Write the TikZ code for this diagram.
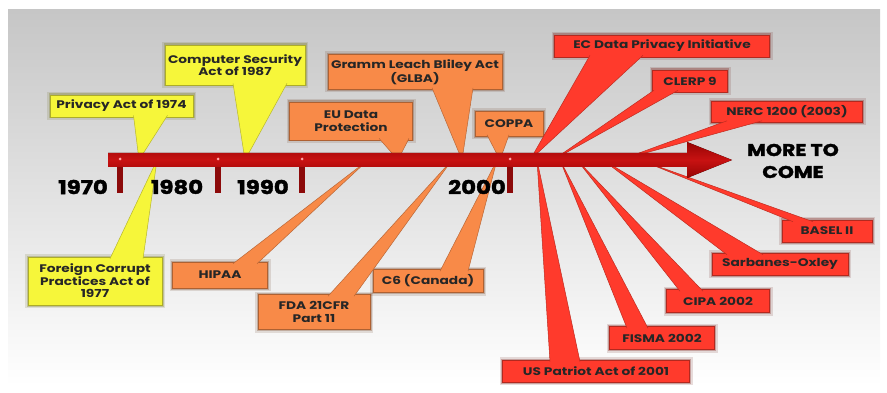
\documentclass[tikz,border=0pt]{standalone}
\usepackage{fontspec}
\setmainfont{Poppins}
\newfontfamily\lawfont[FakeStretch=1.25]{Poppins}
\newfontfamily\yearfont[FakeBold=2,FakeStretch=1.2]{Poppins}
\usetikzlibrary{calc}
\definecolor{bgtop}{RGB}{198,198,198}
\definecolor{lawyel}{RGB}{246,246,58}
\definecolor{laworg}{RGB}{248,138,72}
\definecolor{lawred}{RGB}{255,58,44}
\definecolor{bardark}{RGB}{150,4,4}
\definecolor{barmid}{RGB}{200,18,18}
\definecolor{tickred}{RGB}{140,10,10}
\tikzset{
	law/.style={fill=#1, draw=#1!70!black, line width=.6pt,
		preaction={draw=#1!40!black, line width=6pt, opacity=.15},
		preaction={draw=#1!50!black, line width=3pt, opacity=.3},
		align=center, inner sep=2pt, text=black!85,
		font=\lawfont\bfseries\fontsize{11}{12.5}\selectfont},
	yelbox/.style={law=lawyel},
	orgbox/.style={law=laworg},
	redbox/.style={law=lawred},
	ptr/.style={fill=#1, draw=#1!75!black, line width=.5pt},
	year/.style={font=\yearfont\bfseries\fontsize{19}{20}\selectfont, text=black},
}
\begin{document}
\begin{tikzpicture}[x=1pt,y=-1pt]
\useasboundingbox (0,0) rectangle (887,393);
\fill[top color=bgtop, bottom color=white] (8,10) rectangle (880,386);

% points on the time line
\coordinate (t1974) at (139,160);
\coordinate (t1977) at (157,160);
\coordinate (t1987) at (245,160);
\coordinate (thipaa) at (368,160);
\coordinate (teu) at (398,160);
\coordinate (tfda) at (452,160);
\coordinate (tglba) at (462,160);
\coordinate (tc6) at (497,160);
\coordinate (tcoppa) at (500,160);
\coordinate (tec) at (530,160);
\coordinate (tpatriot) at (537,160);
\coordinate (tclerp) at (553,160);
\coordinate (tfisma) at (560,160);
\coordinate (tcipa) at (577,160);
\coordinate (tsox) at (603,160);
\coordinate (tnerc) at (620,160);
\coordinate (tbasel) at (640,160);

% yellow
\node[yelbox, minimum width=143, minimum height=22] (priv) at (121.5,106) {Privacy Act of 1974};
\node[yelbox, minimum width=140, minimum height=40] (csa) at (235,65) {Computer Security\\Act of 1987};
\node[yelbox, minimum width=134, minimum height=48] (fcpa) at (95,281) {Foreign Corrupt\\Practices Act of\\1977};

% orange
\node[orgbox, minimum width=123, minimum height=38] (eu) at (351,121) {EU Data\\Protection};
\node[orgbox, minimum width=174, minimum height=35] (glba) at (415,72) {Gramm Leach Bliley Act\\(GLBA)};
\node[orgbox, minimum width=68, minimum height=25] (coppa) at (509,124) {COPPA};
\node[orgbox, minimum width=95, minimum height=26] (hipaa) at (220,275) {HIPAA};
\node[orgbox, minimum width=112, minimum height=35] (fda) at (314,312) {FDA 21CFR\\Part 11};
\node[orgbox, minimum width=110, minimum height=23] (c6) at (428,281) {C6 (Canada)};

% red
\node[redbox, minimum width=215, minimum height=22] (ec) at (662,46) {EC Data Privacy Initiative};
\node[redbox, minimum width=75, minimum height=22] (clerp) at (690,81) {CLERP 9};
\node[redbox, minimum width=151, minimum height=21] (nerc) at (787,112) {NERC 1200 (2003)};
\node[redbox, minimum width=90, minimum height=22] (basel) at (827,231) {BASEL II};
\node[redbox, minimum width=136, minimum height=22] (sox) at (780,264) {Sarbanes-Oxley};
\node[redbox, minimum width=103, minimum height=23] (cipa) at (718,301) {CIPA 2002};
\node[redbox, minimum width=105, minimum height=23] (fisma) at (662,338) {FISMA 2002};
\node[redbox, minimum width=187, minimum height=22] (patriot) at (596,371) {US Patriot Act of 2001};

% pointers
\draw[ptr=lawyel] ($(priv.south)+(12,-2)$) -- (t1974) -- ($(priv.south)+(46,-2)$);
\draw[ptr=lawyel] ($(csa.south)+(-2,-2)$) -- (t1987) -- ($(csa.south)+(52,-2)$);
\draw[ptr=lawyel] ($(fcpa.north)+(15,2)$) -- (t1977) -- ($(fcpa.north)+(48,2)$);
\draw[ptr=laworg] ($(eu.south)+(28,-2)$) -- (teu) -- ($(eu.south)+(58,-2)$);
\draw[ptr=laworg] ($(glba.south)+(17,-2)$) -- (tglba) -- ($(glba.south)+(58,-2)$);
\draw[ptr=laworg] ($(coppa.south)+(-22,-2)$) -- (tcoppa) -- ($(coppa.south)+(0,-2)$);
\draw[ptr=laworg] ($(hipaa.north)+(13,2)$) -- (thipaa) -- ($(hipaa.north)+(37,2)$);
\draw[ptr=laworg] ($(fda.north)+(14,2)$) -- (tfda) -- ($(fda.north)+(40,2)$);
\draw[ptr=laworg] ($(c6.north)+(12,2)$) -- (tc6) -- ($(c6.north)+(40,2)$);
\draw[ptr=lawred] ($(ec.south)+(-72,-2)$) -- (tec) -- ($(ec.south)+(-19,-2)$);
\draw[ptr=lawred] ($(clerp.south)+(-36,-2)$) -- (tclerp) -- ($(clerp.south)+(-12,-2)$);
\draw[ptr=lawred] ($(nerc.south)+(-60,-2)$) -- (tnerc) -- ($(nerc.south)+(-25,-2)$);
\draw[ptr=lawred] ($(basel.north)+(-34,2)$) -- (tbasel) -- ($(basel.north)+(-14,2)$);
\draw[ptr=lawred] ($(sox.north)+(-53,2)$) -- (tsox) -- ($(sox.north)+(-17,2)$);
\draw[ptr=lawred] ($(cipa.north)+(-38,2)$) -- (tcipa) -- ($(cipa.north)+(-15,2)$);
\draw[ptr=lawred] ($(fisma.north)+(-35,2)$) -- (tfisma) -- ($(fisma.north)+(-14,2)$);
\draw[ptr=lawred] ($(patriot.north)+(-46,2)$) -- (tpatriot) -- ($(patriot.north)+(-16,2)$);

% time line
\fill[tickred] (117,166) rectangle (123,193);
\fill[tickred] (215,166) rectangle (221,193);
\fill[tickred] (299,166) rectangle (305,193);
\fill[tickred] (507,166) rectangle (513,193);
\fill[top color=bardark, bottom color=bardark, middle color=barmid]
	(108,153) -- (687,153) -- (687,142) -- (732,160) -- (687,178) -- (687,167) -- (108,167) -- cycle;
\fill[red!35] (120,159) circle (1.5);
\fill[red!35] (218,159) circle (1.5);
\fill[red!35] (302,159) circle (1.5);
\fill[red!35] (510,159) circle (1.5);

\node[year] (y1970) at (83,187) {1970};
\node[year] (y1980) at (177,187) {1980};
\node[year] (y1990) at (263,187) {1990};
\node[year] (y2000) at (477,187) {2000};
\node[year, align=center, font=\yearfont\bfseries\fontsize{17}{22}\selectfont] (more) at (793,161) {MORE TO\\COME};
\end{tikzpicture}
\end{document}
